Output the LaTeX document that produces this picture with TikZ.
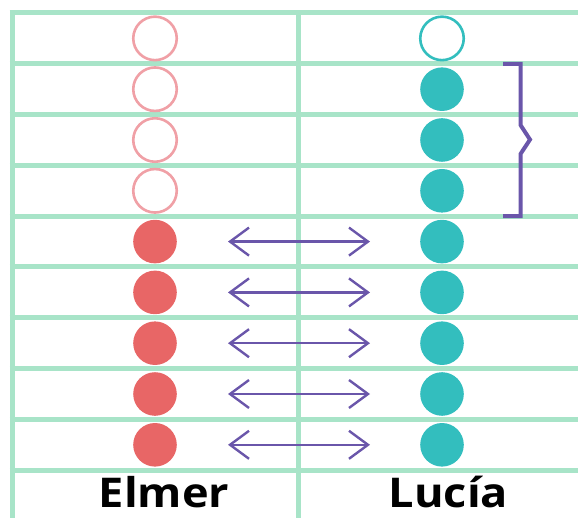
\documentclass[tikz,border=0pt]{standalone}
\usepackage{fontspec}
\setmainfont{Open Sans}
\newfontfamily\namefont{Open Sans}[FakeStretch=1.1]
\usepackage{xcolor}
\usetikzlibrary{arrows.meta,positioning}
\definecolor{gridgreen}{HTML}{A8E4C8}
\definecolor{elmerred}{HTML}{E86666}
\definecolor{elmerpink}{HTML}{F0A0A6}
\definecolor{luciateal}{HTML}{33BEBE}
\definecolor{bracepurple}{HTML}{6A56AA}
\tikzset{gridline/.style={draw=gridgreen,line width=5pt}}
\tikzset{emptyE/.style={shape=circle,draw=elmerpink,line width=2.6pt,fill=white,minimum size=43.5pt,inner sep=0pt}}
\tikzset{fullE/.style={shape=circle,fill=elmerred,minimum size=43.6pt,inner sep=0pt}}
\tikzset{emptyL/.style={shape=circle,draw=luciateal,line width=2.6pt,fill=white,minimum size=43.5pt,inner sep=0pt}}
\tikzset{fullL/.style={shape=circle,fill=luciateal,minimum size=43.6pt,inner sep=0pt}}
\tikzset{pair/.style={<->,draw=bracepurple,line width=2.4pt,shorten <=51pt,shorten >=50pt}}
\tikzset{kidname/.style={anchor=base,inner sep=0pt,font=\namefont\fontsize{41}{44}\selectfont\bfseries}}

\begin{document}
\begin{tikzpicture}[x=1pt, y=-1pt, >={Straight Barb[length=19pt,width=28pt]}]
    \useasboundingbox (0,0) rectangle (578,518);

    % grid
    \draw[gridline] (9.5,13) -- (578,13);
    \draw[gridline] (9.5,63.8) -- (578,63.8);
    \draw[gridline] (9.5,114.6) -- (578,114.6);
    \draw[gridline] (9.5,165.4) -- (578,165.4);
    \draw[gridline] (9.5,216.2) -- (578,216.2);
    \draw[gridline] (9.5,267) -- (578,267);
    \draw[gridline] (9.5,317.8) -- (578,317.8);
    \draw[gridline] (9.5,368.6) -- (578,368.6);
    \draw[gridline] (9.5,419.4) -- (578,419.4);
    \draw[gridline] (9.5,470.2) -- (578,470.2);
    \draw[gridline] (12,10.5) -- (12,518);
    \draw[gridline] (298.5,10.5) -- (298.5,518);

    % Elmer
    \node[emptyE] (E1) at (155,38.4) {};
    \node[emptyE] (E2) at (155,89.2) {};
    \node[emptyE] (E3) at (155,140) {};
    \node[emptyE] (E4) at (155,190.8) {};
    \node[fullE] (E5) at (155,241.6) {};
    \node[fullE] (E6) at (155,292.4) {};
    \node[fullE] (E7) at (155,343.2) {};
    \node[fullE] (E8) at (155,394) {};
    \node[fullE] (E9) at (155,444.8) {};

    % Lucia
    \node[emptyL] (L1) at (442,38.4) {};
    \node[fullL] (L2) at (442,89.2) {};
    \node[fullL] (L3) at (442,140) {};
    \node[fullL] (L4) at (442,190.8) {};
    \node[fullL] (L5) at (442,241.6) {};
    \node[fullL] (L6) at (442,292.4) {};
    \node[fullL] (L7) at (442,343.2) {};
    \node[fullL] (L8) at (442,394) {};
    \node[fullL] (L9) at (442,444.8) {};

    \path (E5) edge[pair] (L5);
    \path (E6) edge[pair] (L6);
    \path (E7) edge[pair] (L7);
    \path (E8) edge[pair] (L8);
    \path (E9) edge[pair] (L9);

    % brace
    \draw[bracepurple, line width=4pt] (503,63.8) -- (520.5,63.8) -- (520.5,125) -- (530,139.6) -- (520.5,154) -- (520.5,216.2) -- (503,216.2);

    \node[kidname] (elmer) at (164,507) {Elmer};
    \node[kidname] (lucia) at (448.5,507) {Lucía};
\end{tikzpicture}
\end{document}
